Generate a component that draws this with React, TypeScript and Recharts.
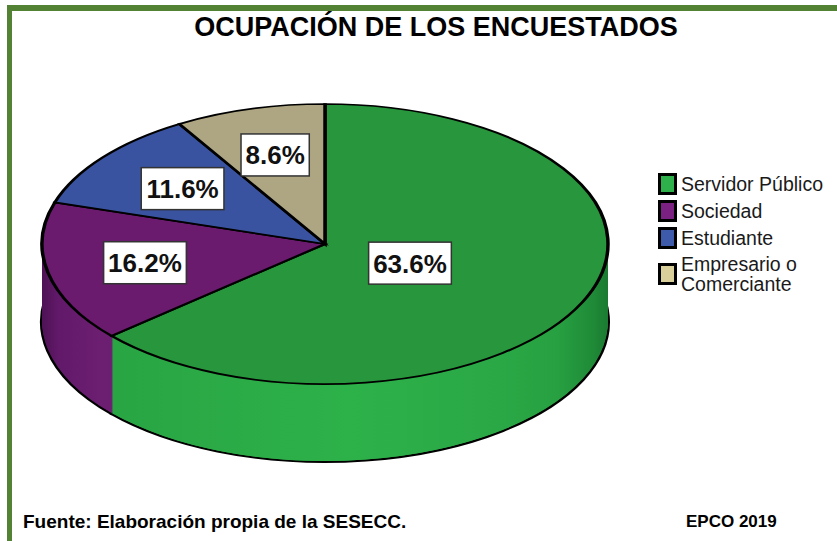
import { PieChart, Pie, Cell, Legend } from "recharts";

const CATEGORIES = ["Servidor Público", "Sociedad", "Estudiante", "Empresario o Comerciante"];
const LEGEND_LINES = [["Servidor Público"], ["Sociedad"], ["Estudiante"], ["Empresario o", "Comerciante"]];
const PERCENTS = [63.6, 16.2, 11.6, 8.6];

const TOP_COLORS = ["#27963c", "#6a1b6d", "#3a53a0", "#aea683"];
const SIDE_FILLS = ["url(#wall-green)", "url(#wall-purple)", "#30488c", "#979070"];
const LEGEND_COLORS = ["#2eb04b", "#7a2181", "#3d5aab", "#d8cf9b"];

const data = CATEGORIES.map((name, i) => ({ name, value: PERCENTS[i] }));

const W = 837;
const H = 541;
// top ellipse of the 3D pie, in page pixels
const CX = 325;
const CY = 244;
const RX = 283;
const RY = 140;
const DEPTH = 78;
const TILT = RY / RX;
const LAYERS = 78;
const SH = Math.ceil((CY + DEPTH + RY + 10) / TILT);
const LABEL_RADIUS = [0.33, 0.65, 0.64, 0.66];
const FONT = '"Liberation Sans", Arial, Helvetica, sans-serif';

// offsets (in unscaled units) of the stacked layers that build the side wall
const wallOffsets = Array.from({ length: LAYERS }, (_, i) => ((LAYERS - i) * DEPTH) / LAYERS / TILT);

const NO_MARGIN = { top: 0, right: 0, bottom: 0, left: 0 };

function textWidth(s: string, size: number) {
  let w = 0;
  for (const ch of s) {
    if (ch === ".") w += 0.278;
    else if (ch === "%") w += 0.889;
    else w += 0.556;
  }
  return w * size;
}

const renderLabel = (props: any) => {
  const { cx, cy, midAngle, outerRadius, index, value } = props;
  const f = LABEL_RADIUS[index] ?? 0.6;
  const rad = (Math.PI / 180) * midAngle;
  const x = cx + outerRadius * f * Math.cos(rad);
  const y = cy - outerRadius * TILT * f * Math.sin(rad);
  const text = `${Number(value).toFixed(1)}%`;
  const w = textWidth(text, 26) + 9;
  return (
    <g key={`label-${index}`}>
      <rect x={x - w / 2} y={y - 21} width={w} height={42} fill="#fff" stroke="#333" strokeWidth={1.5} />
      <text
        x={x}
        y={y + 9.5}
        textAnchor="middle"
        fontSize={26}
        fontWeight="bold"
        fill="#111"
        fontFamily={FONT}
      >
        {text}
      </text>
    </g>
  );
};

const renderLegend = (props: any) => {
  const order = (v: string) => {
    const i = CATEGORIES.indexOf(v);
    return i >= 0 ? i : 99;
  };
  const items = [...(props.payload ?? [])].sort((a: any, b: any) => order(a.value) - order(b.value));
  return (
    <div style={{ fontFamily: FONT, fontSize: 19.5, color: "#1a1a1a", lineHeight: "20px" }}>
      {items.map((entry: any, i: number) => {
        const found = CATEGORIES.indexOf(entry.value);
        const idx = found >= 0 ? found : i;
        return (
          <div key={`${entry.value}-${i}`} style={{ display: "flex", alignItems: "center", marginBottom: 5 }}>
            <span
              style={{
                width: 19,
                height: 22,
                boxSizing: "border-box",
                border: "3px solid #000",
                background: LEGEND_COLORS[idx],
                marginRight: 4,
                flex: "none",
              }}
            />
            <span>
              {LEGEND_LINES[idx].map((line) => (
                <div key={line}>{line}</div>
              ))}
            </span>
          </div>
        );
      })}
    </div>
  );
};

export default function App() {
  return (
    <div
      style={{
        position: "absolute",
        left: 0,
        top: 0,
        width: W,
        height: H,
        background: "#fff",
        overflow: "hidden",
        fontFamily: FONT,
      }}
    >
      <svg width={0} height={0} style={{ position: "absolute" }}>
        <defs>
          <linearGradient id="wall-green" x1="0" y1="0" x2="1" y2="0">
            <stop offset="0" stopColor="#29a544" />
            <stop offset="0.48" stopColor="#2db149" />
            <stop offset="0.78" stopColor="#2aa846" />
            <stop offset="0.9" stopColor="#27a041" />
            <stop offset="0.97" stopColor="#1f8a37" />
            <stop offset="1" stopColor="#1b7a31" />
          </linearGradient>
          <linearGradient id="wall-purple" x1="0" y1="0" x2="1" y2="0">
            <stop offset="0" stopColor="#4e1255" />
            <stop offset="0.06" stopColor="#62196a" />
            <stop offset="0.2" stopColor="#6c1e70" />
            <stop offset="1" stopColor="#6c1e70" />
          </linearGradient>
        </defs>
      </svg>

      {/* frame */}
      <div style={{ position: "absolute", left: 7, top: 5, right: 0, height: 6, background: "#548235" }} />
      <div style={{ position: "absolute", left: 7, top: 5, width: 5, bottom: 0, background: "#548235" }} />

      <div
        style={{
          position: "absolute",
          left: 86,
          top: 14,
          width: 700,
          textAlign: "center",
          fontSize: 27,
          lineHeight: "26px",
          fontWeight: "bold",
          color: "#000",
        }}
      >
        OCUPACIÓN DE LOS ENCUESTADOS
      </div>

      {/* pie body, squashed vertically to look tilted */}
      <div
        style={{
          position: "absolute",
          left: 0,
          top: 0,
          width: W,
          height: SH,
          transform: `scaleY(${TILT})`,
          transformOrigin: "0 0",
        }}
      >
        <PieChart width={W} height={SH} margin={NO_MARGIN}>
          {wallOffsets.map((off, k) => (
            <Pie
              key={`wall-${k}`}
              data={data}
              dataKey="value"
              nameKey="name"
              cx={CX}
              cy={CY / TILT + off}
              outerRadius={RX}
              startAngle={90}
              endAngle={-270}
              stroke={k === 0 ? "#000" : "none"}
              strokeWidth={k === 0 ? 4 : 0}
              legendType="none"
              isAnimationActive={false}
            >
              {data.map((d, i) => (
                <Cell key={d.name} fill={SIDE_FILLS[i]} />
              ))}
            </Pie>
          ))}
          <Pie
            data={data}
            dataKey="value"
            nameKey="name"
            cx={CX}
            cy={CY / TILT}
            outerRadius={RX}
            startAngle={90}
            endAngle={-270}
            stroke="#000"
            strokeWidth={3.5}
            legendType="none"
            isAnimationActive={false}
          >
            {data.map((d, i) => (
              <Cell key={d.name} fill={TOP_COLORS[i]} />
            ))}
          </Pie>
        </PieChart>
      </div>

      {/* labels and legend, unscaled */}
      <div style={{ position: "absolute", left: 0, top: 0, width: W, height: H }}>
        <PieChart width={W} height={H} margin={NO_MARGIN}>
          <Pie
            data={data}
            dataKey="value"
            nameKey="name"
            cx={CX}
            cy={CY}
            outerRadius={RX}
            startAngle={90}
            endAngle={-270}
            fill="transparent"
            stroke="none"
            label={renderLabel}
            labelLine={false}
            isAnimationActive={false}
          >
            {data.map((d) => (
              <Cell key={d.name} fill="transparent" stroke="none" />
            ))}
          </Pie>
          <Legend
            layout="vertical"
            align="right"
            verticalAlign="top"
            content={renderLegend}
            wrapperStyle={{ left: 658, top: 173, width: 179 }}
          />
        </PieChart>
      </div>

      <div
        style={{
          position: "absolute",
          left: 23,
          top: 512,
          fontSize: 19,
          lineHeight: "20px",
          fontWeight: "bold",
          color: "#000",
          whiteSpace: "nowrap",
        }}
      >
        Fuente: Elaboración propia de la SESECC.
      </div>
      <div
        style={{
          position: "absolute",
          left: 686,
          top: 512,
          fontSize: 17,
          lineHeight: "20px",
          fontWeight: "bold",
          color: "#000",
          whiteSpace: "nowrap",
        }}
      >
        EPCO 2019
      </div>
    </div>
  );
}
